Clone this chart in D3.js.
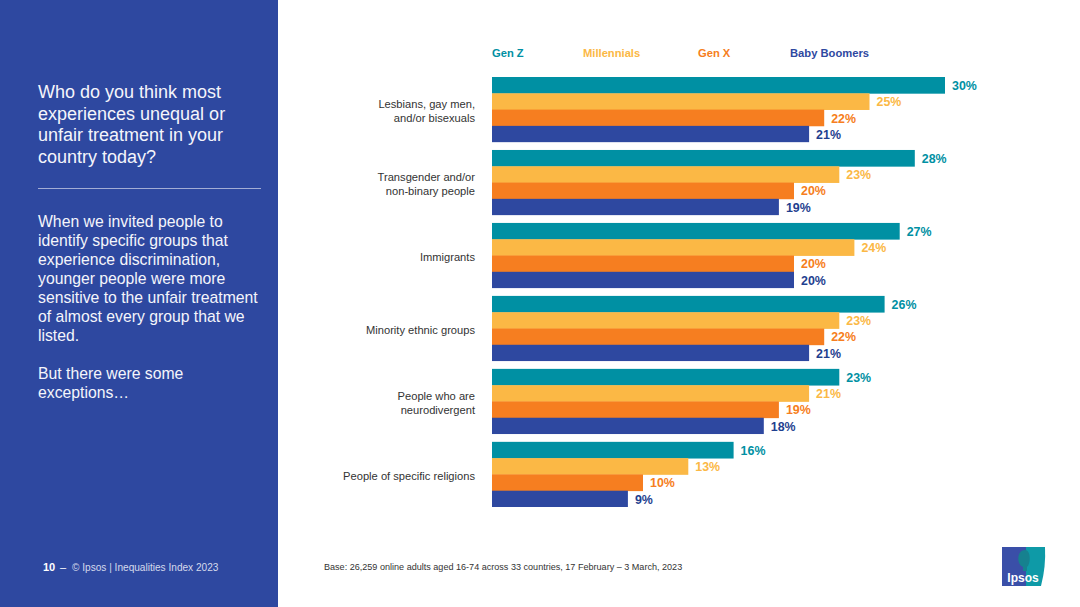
<!DOCTYPE html>
<html><head><meta charset="utf-8">
<script src="https://cdn.jsdelivr.net/npm/d3@7"></script>
<style>html,body{margin:0;padding:0;background:#fff}svg{display:block;font-family:"Liberation Sans",Arial,sans-serif}</style>
</head><body><div id="c"></div>
<script>
const categories=[["Lesbians, gay men,","and/or bisexuals"],["Transgender and/or","non-binary people"],["Immigrants"],["Minority ethnic groups"],["People who are","neurodivergent"],["People of specific religions"]];
const seriesNames=["Gen Z","Millennials","Gen X","Baby Boomers"];
const genZ=[30,28,27,26,23,16];
const millennials=[25,23,24,23,21,13];
const genX=[22,20,20,22,19,10];
const boomers=[21,19,20,21,18,9];
const seriesValues=[genZ,millennials,genX,boomers];
const barColors=["#0090A3","#FBB845","#F67E20","#2E48A0"];
const labelColors=["#0090A3","#FBB845","#F67E20","#1F3F8F"];
const legendColors=["#0090A3","#FBB845","#F67E20","#2E48A0"];
const legendX=[492,583,698,790];
const question=["Who do you think most","experiences unequal or","unfair treatment in your","country today?"];
const body=["When we invited people to","identify specific groups that","experience discrimination,","younger people were more","sensitive to the unfair treatment","of almost every group that we","listed.","","But there were some","exceptions…"];

const svg=d3.select("#c").append("svg").attr("width",1080).attr("height",607);
svg.append("rect").attr("width",1080).attr("height",607).attr("fill","#fff");
svg.append("rect").attr("width",278).attr("height",607).attr("fill","#2E48A0");

svg.selectAll(".q").data(question).join("text").attr("x",38).attr("y",(d,i)=>98.4+i*21.4)
  .attr("font-size",18).attr("fill","#f4f5fb").text(d=>d);
svg.append("line").attr("x1",38).attr("x2",261).attr("y1",188.5).attr("y2",188.5).attr("stroke","#d5daec").attr("stroke-width",0.7);
svg.selectAll(".b").data(body).join("text").attr("x",38).attr("y",(d,i)=>227+i*19)
  .attr("font-size",15.75).attr("fill","#f4f5fb").text(d=>d);

svg.append("text").attr("x",43).attr("y",571).attr("font-size",11).attr("font-weight",700).attr("fill","#fff").text("10");
svg.append("text").attr("x",60).attr("y",571).attr("font-size",11).attr("fill","#fff").text("–");
svg.append("text").attr("x",72).attr("y",571).attr("font-size",10.1).attr("fill","#d5daec").text("© Ipsos | Inequalities Index 2023");
svg.append("text").attr("x",324).attr("y",570).attr("font-size",9.07).attr("fill","#333").text("Base: 26,259 online adults aged 16-74 across 33 countries, 17 February – 3 March, 2023");

const x=d3.scaleLinear().domain([0,30]).range([492,945]);
const y0=d3.scaleBand().domain(d3.range(categories.length)).range([77,507]).paddingInner(0.107).paddingOuter(0);
const y1=d3.scaleBand().domain(d3.range(seriesNames.length)).range([0,y0.bandwidth()]);

svg.selectAll(".leg").data(seriesNames).join("text").attr("x",(d,i)=>legendX[i]).attr("y",57.3)
  .attr("font-size",11.2).attr("font-weight",700).attr("fill",(d,i)=>legendColors[i]).text(d=>d);

const groups=svg.selectAll(".g").data(categories).join("g").attr("transform",(d,i)=>`translate(0,${y0(i)})`);
groups.each(function(cat,ci){
  const g=d3.select(this);
  const lineH=13.8, mid=y0.bandwidth()/2;
  g.selectAll("text.cat").data(cat).join("text").attr("class","cat").attr("x",475).attr("text-anchor","end")
    .attr("y",(d,i)=>mid+5.2+(i-(cat.length-1)/2)*lineH).attr("font-size",11.15).attr("fill","#333").text(d=>d);
  seriesValues.forEach((vals,si)=>{
    g.append("rect").attr("x",x(0)).attr("y",y1(si)).attr("width",x(vals[ci])-x(0)).attr("height",y1.bandwidth()+(si<3?0.4:0)).attr("fill",barColors[si]);
    g.append("text").attr("x",x(vals[ci])+7).attr("y",y1(si)+y1.bandwidth()/2+4.8).attr("font-size",12.4).attr("font-weight",700)
      .attr("fill",labelColors[si]).text(vals[ci]+"%");
  });
});

// logo
const logo=svg.append("g").attr("transform","translate(1002,547)");
logo.append("path").attr("d","M0,0H24V39H0Z").attr("fill","#3A4FA8");
logo.append("path").attr("d","M24,0H43Q44,20 39,39H24Z").attr("fill","#0E9AA7");
logo.append("path").attr("d","M23,3C15,3 14,17 21,20L21,24H25L25,20C29,17 29,3 23,3Z").attr("fill","#16818f");
logo.append("text").attr("x",21).attr("y",34.5).attr("text-anchor","middle").attr("font-size",12).attr("font-weight",700).attr("fill","#fff").text("Ipsos");
</script></body></html>
